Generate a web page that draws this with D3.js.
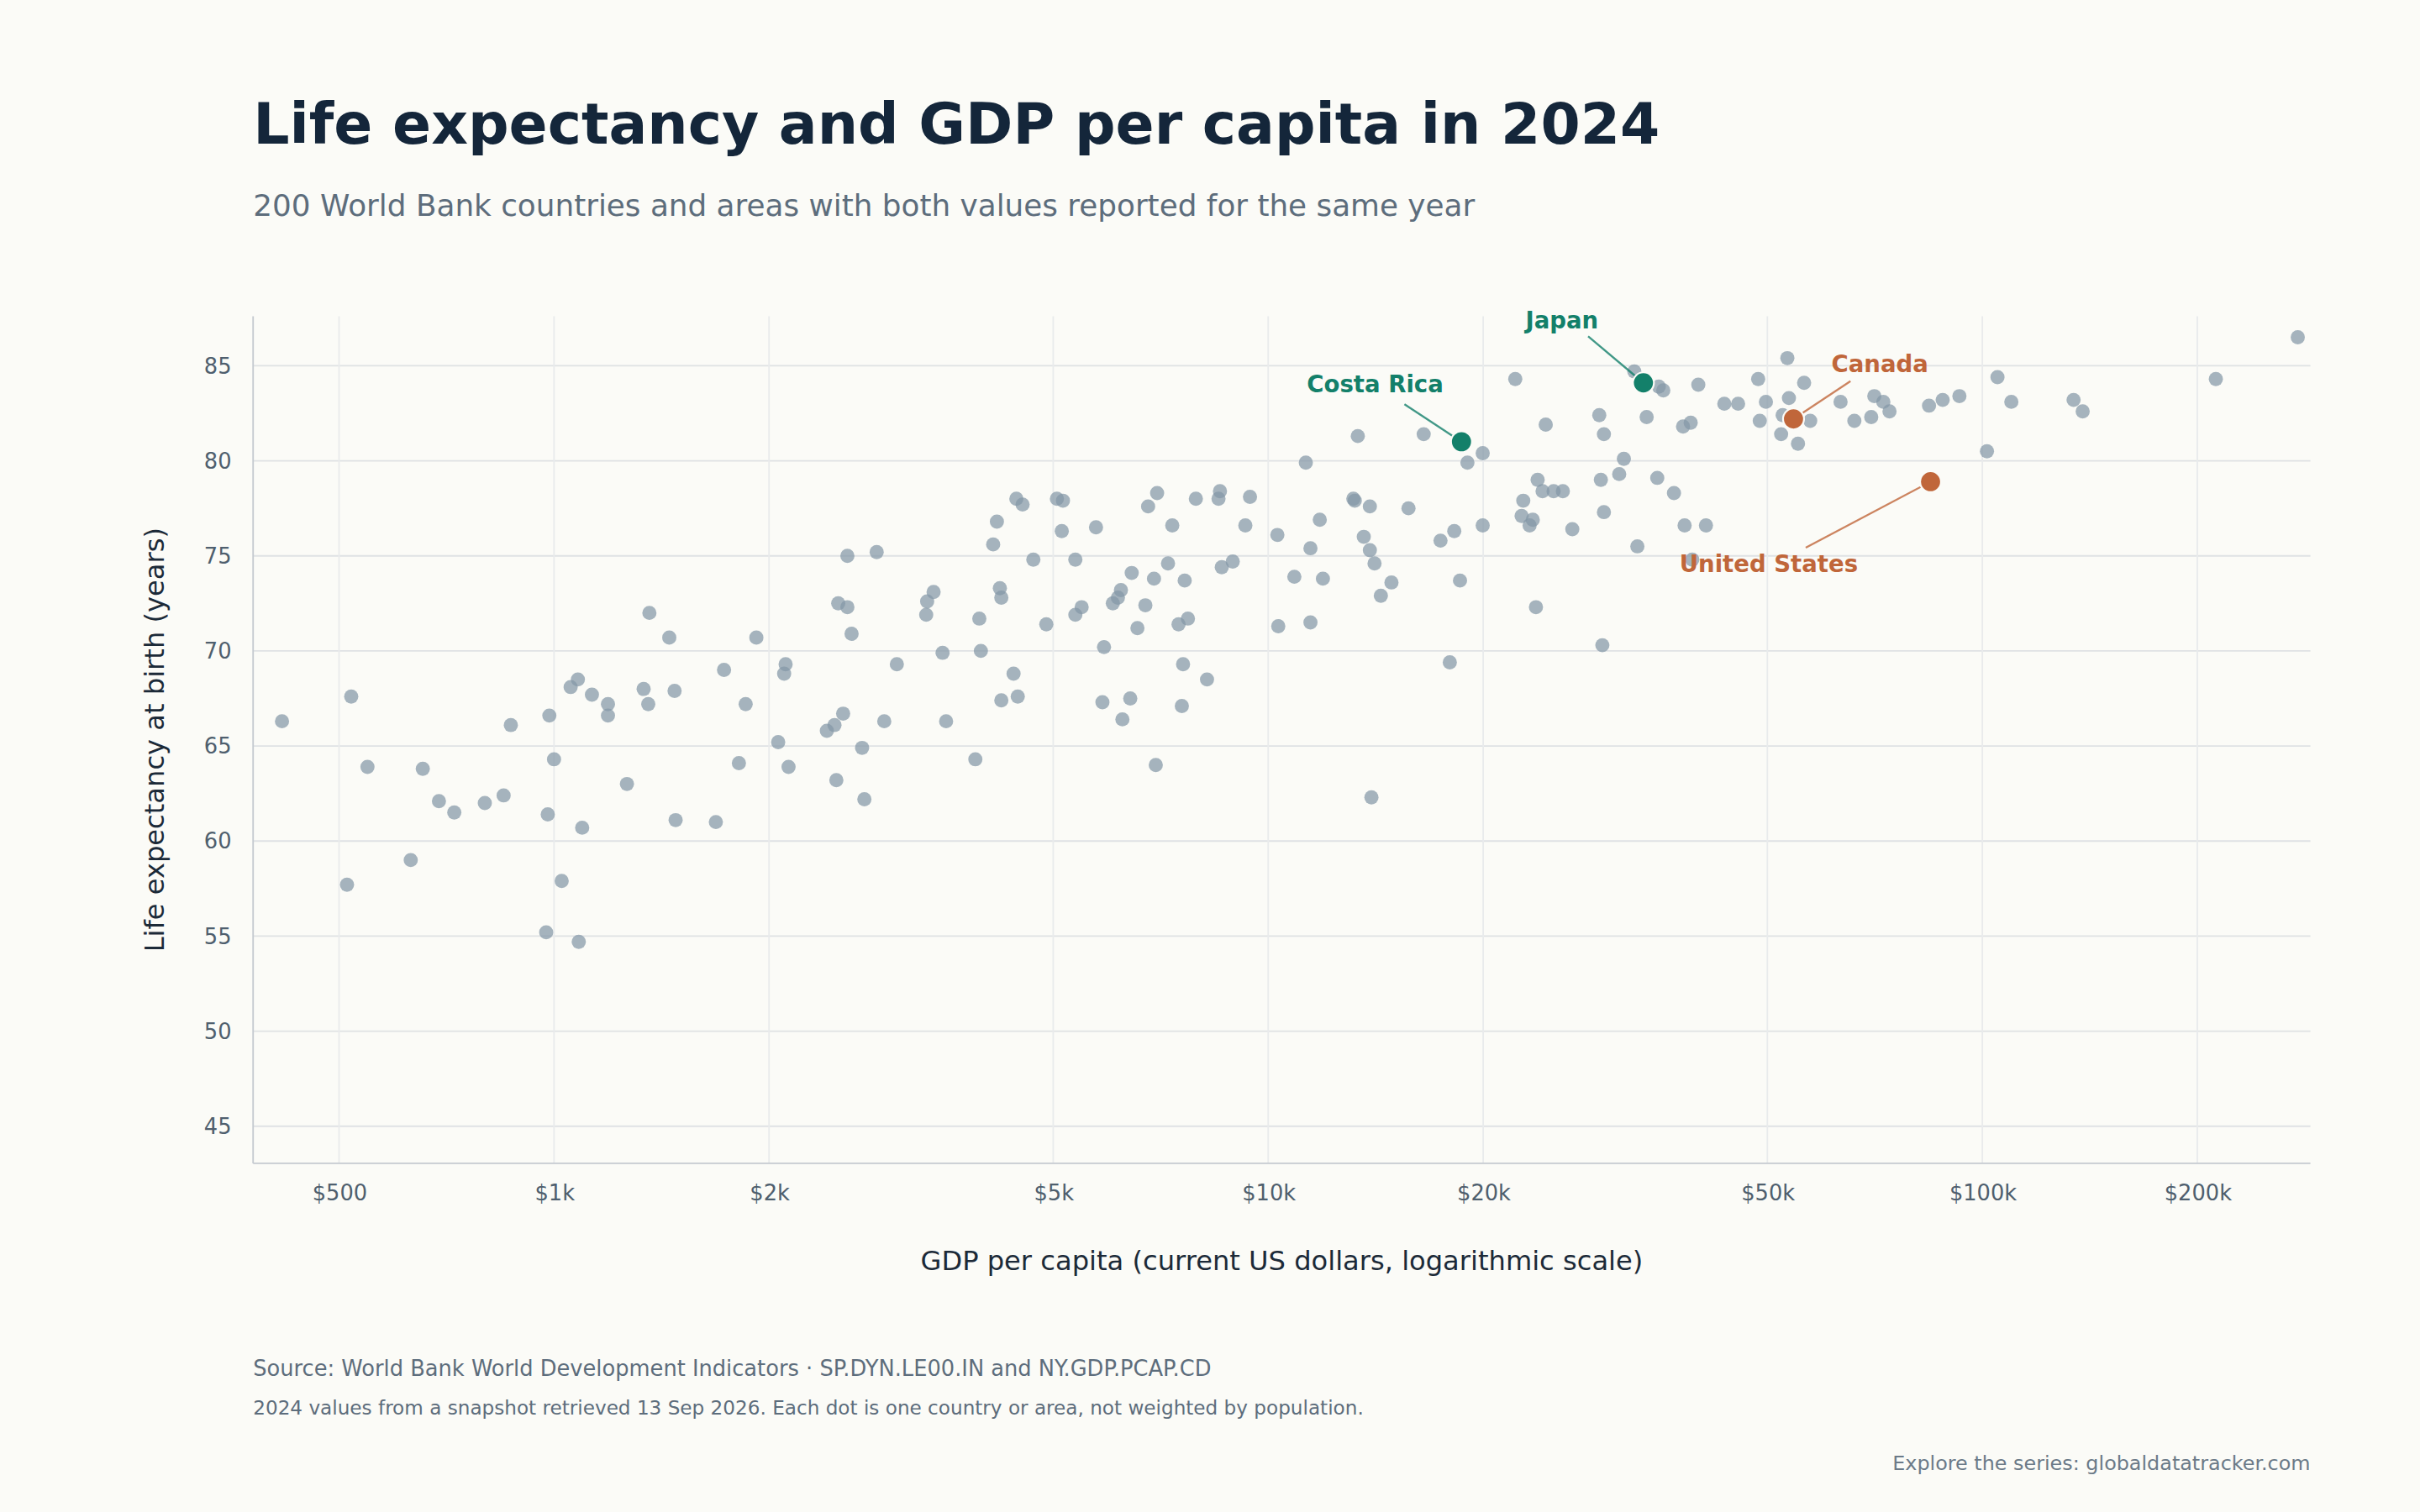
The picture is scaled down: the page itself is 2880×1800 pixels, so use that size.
<!DOCTYPE html>
<html><head><meta charset="utf-8">
<script src="https://cdn.jsdelivr.net/npm/d3@7"></script>
<style>html,body{margin:0;padding:0;background:#fbfbf7;}svg{display:block;font-family:"DejaVu Sans",sans-serif;}</style>
</head><body>
<script>
const gdp = [416,513,520,548,630,655,690,725,800,850,870,975,980,985,1000,1025,1055,1080,1083,1095,1130,1190,1190,1265,1335,1355,1360,1450,1475,1480,1685,1730,1815,1855,1920,2060,2100,2110,2130,2410,2470,2485,2500,2540,2575,2575,2610,2700,2720,2830,2900,3020,3320,3330,3400,3500,3540,3890,3940,3960,4120,4170,4210,4230,4230,4400,4440,4460,4530,4690,4890,5060,5160,5140,5370,5370,5480,5740,5860,5890,6060,6160,6220,6250,6410,6440,6560,6730,6790,6920,6960,6990,7240,7340,7490,7570,7600,7640,7720,7920,8210,8520,8560,8610,8920,9290,9430,10300,10330,10880,11290,11460,11460,11810,11930,13160,13220,13350,13610,13880,13880,13950,14090,14380,14880,15720,16510,17430,17960,18220,18560,19010,19970,19970,22180,22640,22760,23230,23470,23710,23840,24220,24470,25100,25860,26660,29080,29230,29370,29520,29520,31010,31480,32560,32880,33880,35060,35230,35750,37000,38100,38290,39050,39250,40020,41020,43520,45500,48540,48790,49770,52270,52530,53330,53600,55190,56290,57410,63310,66190,69890,70590,72670,74130,84200,88000,92870,101500,105000,109800,134200,138200,212300,276500];
const life = [66.3,57.7,67.6,63.9,59.0,63.8,62.1,61.5,62.0,62.4,66.1,55.2,61.4,66.6,64.3,57.9,68.1,68.5,54.7,60.7,67.7,67.2,66.6,63.0,68.0,67.2,72.0,70.7,67.9,61.1,61.0,69.0,64.1,67.2,70.7,65.2,68.8,69.3,63.9,65.8,66.1,63.2,72.5,66.7,72.3,75.0,70.9,64.9,62.2,75.2,66.3,69.3,71.9,72.6,73.1,69.9,66.3,64.3,71.7,70.0,75.6,76.8,73.3,72.8,67.4,68.8,78.0,67.6,77.7,74.8,71.4,78.0,77.9,76.3,74.8,71.9,72.3,76.5,67.3,70.2,72.5,72.8,73.2,66.4,67.5,74.1,71.2,72.4,77.6,73.8,64.0,78.3,74.6,76.6,71.4,67.1,69.3,73.7,71.7,78.0,68.5,78.0,78.4,74.4,74.7,76.6,78.1,76.1,71.3,73.9,79.9,75.4,71.5,76.9,73.8,78.0,77.9,81.3,76.0,77.6,75.3,62.3,74.6,72.9,73.6,77.5,81.4,75.8,69.4,76.3,73.7,79.9,80.4,76.6,84.3,77.1,77.9,76.6,76.9,72.3,79.0,78.4,81.9,78.4,78.4,76.4,82.4,79.0,70.3,81.4,77.3,79.3,80.1,84.7,75.5,82.3,79.1,83.9,83.7,78.3,81.8,76.6,82.0,74.8,84.0,76.6,83.0,83.0,84.3,82.1,83.1,81.4,82.4,85.4,83.3,80.9,84.1,82.1,83.1,82.1,82.3,83.4,83.1,82.6,82.9,83.2,83.4,80.5,84.4,83.1,83.2,82.6,84.3,86.5];
const hlNames = ["Costa Rica","Japan","Canada","United States"];
const hlGdp = [18650,33530,54400,84620];
const hlLife = [81.0,84.1,82.2,78.9];
const hlColors = ["#13806a","#13806a","#c0663a","#c0663a"];
const xTickVals = [500,1000,2000,5000,10000,20000,50000,100000,200000];
const xTickLabels = ["$500","$1k","$2k","$5k","$10k","$20k","$50k","$100k","$200k"];
const yTickVals = [45,50,55,60,65,70,75,80,85];

const W=1568,H=980;
const svg=d3.select("body").append("svg").attr("width",2880).attr("height",1800).attr("viewBox",`0 0 ${W} ${H}`);
svg.append("rect").attr("width",W).attr("height",H).attr("fill","#fbfbf7");
const L=164,R=1497,T=205,B=754;
const x=d3.scaleLog().domain([379,288000]).range([L,R]);
const y=d3.scaleLinear().domain([43.05,87.6]).range([B,T]);

svg.append("text").attr("x",164).attr("y",93).attr("font-size",37).attr("font-weight","bold").attr("fill","#14263a").text("Life expectancy and GDP per capita in 2024");
svg.append("text").attr("x",164).attr("y",140).attr("font-size",19.5).attr("fill","#5d6d7c").text("200 World Bank countries and areas with both values reported for the same year");

const g=svg.append("g");
g.selectAll(".hg").data(yTickVals).join("line").attr("x1",L).attr("x2",R).attr("y1",d=>y(d)).attr("y2",d=>y(d)).attr("stroke","#dfe2e4").attr("stroke-width",1);
g.selectAll(".vg").data(xTickVals).join("line").attr("y1",T).attr("y2",B).attr("x1",d=>x(d)).attr("x2",d=>x(d)).attr("stroke","#e9ebec").attr("stroke-width",1);

const xa=svg.append("g").attr("transform",`translate(0,${B})`).call(d3.axisBottom(x).tickValues(xTickVals).tickFormat((d,i)=>xTickLabels[i]).tickSize(0).tickPadding(14));
const ya=svg.append("g").attr("transform",`translate(${L},0)`).call(d3.axisLeft(y).tickValues(yTickVals).tickSize(0).tickPadding(14));
[xa,ya].forEach(a=>{a.select(".domain").attr("stroke","#c5cad0");a.selectAll("text").attr("font-size",14).attr("fill","#4f5f6e").attr("font-family","DejaVu Sans");});
ya.select(".domain").attr("d",`M0,${T}V${B}`);
xa.select(".domain").attr("d",`M${L},0H${R}`);

svg.append("text").attr("x",(L+R)/2).attr("y",823).attr("text-anchor","middle").attr("font-size",17.5).attr("fill","#1c2a38").text("GDP per capita (current US dollars, logarithmic scale)");
svg.append("text").attr("transform",`translate(106,${(T+B)/2}) rotate(-90)`).attr("text-anchor","middle").attr("font-size",17.5).attr("fill","#1c2a38").text("Life expectancy at birth (years)");

const pts=gdp.map((v,i)=>({g:v,l:life[i]}));
svg.append("g").selectAll("circle").data(pts).join("circle").attr("cx",d=>x(d.g)).attr("cy",d=>y(d.l)).attr("r",4.6).attr("fill","#8497a6").attr("fill-opacity",0.72);

const lab=[{tx:1012,ty:213,lx1:1029,ly1:218,anc:"middle"},{tx:891,ty:254,lx1:910,ly1:262,anc:"middle"},{tx:1218,ty:241,lx1:1199,ly1:247,anc:"middle"},{tx:1146,ty:371,lx1:1170,ly1:355,anc:"middle"}];
const order=[1,0,2,3];
const hg=svg.append("g");
hlNames.forEach((n,i)=>{
  const a=lab[order[i]];
  const cx=x(hlGdp[i]),cy=y(hlLife[i]);
  hg.append("line").attr("x1",a.lx1).attr("y1",a.ly1).attr("x2",cx).attr("y2",cy).attr("stroke",hlColors[i]).attr("stroke-width",1.3).attr("stroke-opacity",0.8);
  hg.append("circle").attr("cx",cx).attr("cy",cy).attr("r",6.8).attr("fill",hlColors[i]).attr("stroke","#fbfbf7").attr("stroke-width",1.2);
  hg.append("text").attr("x",a.tx).attr("y",a.ty).attr("text-anchor",a.anc).attr("font-size",15).attr("font-weight","bold").attr("fill",hlColors[i]).text(n);
});

svg.append("text").attr("x",164).attr("y",892).attr("font-size",14).attr("fill","#5d6d7c").text("Source: World Bank World Development Indicators  ·  SP.DYN.LE00.IN and NY.GDP.PCAP.CD");
svg.append("text").attr("x",164).attr("y",917).attr("font-size",12.6).attr("fill","#5d6d7c").text("2024 values from a snapshot retrieved 13 Sep 2026. Each dot is one country or area, not weighted by population.");
svg.append("text").attr("x",1497).attr("y",953).attr("text-anchor","end").attr("font-size",13).attr("fill","#6b7a88").text("Explore the series: globaldatatracker.com");
</script>
</body></html>
